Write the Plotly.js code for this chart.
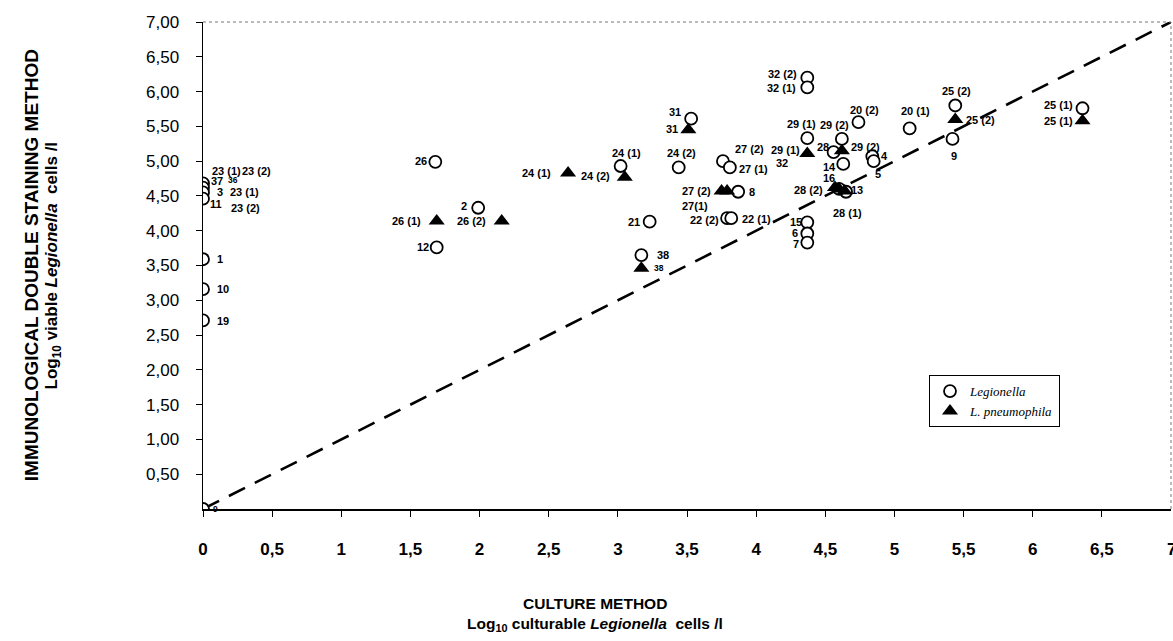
<!DOCTYPE html>
<html>
<head>
<meta charset="utf-8">
<script src="https://cdn.plot.ly/plotly-3.0.1.min.js"></script>
<style>html,body{margin:0;padding:0;background:#fff;}#chart{width:1173px;height:641px;}</style>
</head>
<body>
<div id="chart"></div>
<script>
// Legionella (open circles): culture (x) vs immunological double staining (y)
const legionellaX = [0,0,0,0,0,0,0,0, 1.68,1.99,1.69, 3.02,3.44,3.53,3.76,3.81,3.87,3.23,3.79,3.82,3.17, 4.37,4.37,4.74,5.11,4.37,4.62,4.56,4.63,4.84,4.85,4.65,4.60,4.37,4.37,4.37, 5.44,5.42,6.36];
const legionellaY = [4.68,4.62,4.55,4.46,3.59,3.16,2.71,0, 4.99,4.33,3.76, 4.93,4.91,5.61,5.00,4.91,4.56,4.13,4.18,4.18,3.65, 6.20,6.06,5.56,5.47,5.33,5.32,5.13,4.96,5.07,5.00,4.56,4.60,4.12,3.96,3.83, 5.80,5.32,5.76];
// L. pneumophila (filled triangles)
const pneumoX = [1.69,2.16,2.64,3.05,3.51,3.17,3.75,3.79,4.37,4.62,4.57,4.60,4.64,5.44,6.36];
const pneumoY = [4.14,4.14,4.83,4.77,5.45,3.46,4.57,4.57,5.11,5.15,4.62,4.60,4.57,5.60,5.58];
// sample labels
const labelText = ["23 (1)","23 (2)","37","36","3","23 (1)","11","23 (2)","1","10","19","9",
  "26","2","26 (1)","26 (2)","12","24 (1)","24 (2)","24 (1)","24 (2)","31","31",
  "27 (2)","27 (1)","27 (2)","8","27(1)","21","22 (2)","22 (1)","38","38",
  "32 (2)","32 (1)","20 (2)","20 (1)","29 (1)","29 (2)","29 (1)","32","28","29 (2)","4","5","14","16","28 (2)","13","28 (1)","15","6","7",
  "25 (2)","25 (2)","9","25 (1)","25 (1)"];
const labelX = [0.17,0.385,0.10,0.22,0.125,0.30,0.097,0.31,0.125,0.144,0.144,0.09,
  1.58,1.89,1.47,1.94,1.59,2.41,2.84,3.06,3.46,3.41,3.39,
  3.95,3.98,3.57,3.97,3.56,3.12,3.63,4.0,3.33,3.30,
  4.19,4.18,4.78,5.15,4.33,4.57,4.21,4.19,4.48,4.79,4.93,4.88,4.53,4.53,4.38,4.73,4.66,4.29,4.28,4.29,
  5.45,5.62,5.43,6.19,6.19];
const labelY = [4.86,4.86,4.71,4.73,4.55,4.55,4.38,4.33,3.59,3.16,2.70,0.0,
  5.0,4.36,4.14,4.14,3.76,4.83,4.79,5.12,5.12,5.70,5.46,
  5.18,4.88,4.57,4.56,4.35,4.13,4.15,4.17,3.65,3.46,
  6.25,6.05,5.74,5.72,5.54,5.52,5.16,4.97,5.20,5.21,5.08,4.81,4.92,4.76,4.59,4.59,4.26,4.13,3.97,3.81,
  6.01,5.59,5.08,5.81,5.57];
const smallLabels = [3, 11, 32];
// axis ticks
const xTickVals = [0,0.5,1,1.5,2,2.5,3,3.5,4,4.5,5,5.5,6,6.5];
const xTickText = ["0","0,5","1","1,5","2","2,5","3","3,5","4","4,5","5","5,5","6","6,5"];
const xLastTick = 7, xLastTickText = "7";
const yTickVals = [0.5,1,1.5,2,2.5,3,3.5,4,4.5,5,5.5,6,6.5,7];
const yTickText = ["0,50","1,00","1,50","2,00","2,50","3,00","3,50","4,00","4,50","5,00","5,50","6,00","6,50","7,00"];
const diagX = [0,7];
const diagY = [0,7];

const FONT = 'Liberation Sans, Arial, sans-serif';
const traces = [
  {x: diagX, y: diagY, mode:'lines', line:{color:'#000', width:2.6, dash:'18px,11px'}, showlegend:false, hoverinfo:'skip'},
  {x: legionellaX, y: legionellaY, mode:'markers', name:'Legionella',
   marker:{symbol:'circle', size:12, color:'#fff', line:{color:'#000', width:1.8}}},
  {x: pneumoX, y: pneumoY, mode:'markers', name:'L. pneumophila',
   marker:{symbol:'triangle-up', size:14, color:'#000', line:{color:'#000', width:0}}}
];

const annotations = labelText.map((t,i)=>({
  x: labelX[i], y: labelY[i], xref:'x', yref:'y', text:t, showarrow:false,
  xanchor:'center', yanchor:'middle',
  font:{family:FONT, size: smallLabels.includes(i) ? 8.5 : 11, color:'#000', weight:'bold'}
}));
annotations.push(
  {xref:'x', yref:'paper', x:xLastTick, y:0, yshift:-40, text:xLastTickText, showarrow:false,
   xanchor:'center', yanchor:'middle', font:{family:FONT, size:17, weight:'bold', color:'#000'}},
  {xref:'paper', yref:'paper', x:-0.177, y:0.5, text:'IMMUNOLOGICAL DOUBLE STAINING METHOD', textangle:-90, showarrow:false,
   xanchor:'center', yanchor:'middle', font:{family:FONT, size:19, weight:'bold', color:'#000'}},
  {xref:'paper', yref:'paper', x:-0.155, y:0.5, text:'Log<sub>10</sub> viable <i>Legionella</i>  cells /l', textangle:-90, showarrow:false,
   xanchor:'center', yanchor:'middle', font:{family:FONT, size:17, weight:'bold', color:'#000'}},
  {xref:'paper', yref:'paper', x:0.405, y:-0.195, text:'CULTURE METHOD', showarrow:false,
   xanchor:'center', yanchor:'middle', font:{family:FONT, size:15.5, weight:'bold', color:'#000'}},
  {xref:'paper', yref:'paper', x:0.405, y:-0.237, text:'Log<sub>10</sub> culturable <i>Legionella</i>  cells /l', showarrow:false,
   xanchor:'center', yanchor:'middle', font:{family:FONT, size:15.5, weight:'bold', color:'#000'}}
);

const layout = {
  width:1173, height:641,
  margin:{l:203, r:2, t:22, b:132, pad:0},
  paper_bgcolor:'#fff', plot_bgcolor:'#fff',
  showlegend:true,
  legend:{x:0.75, y:0.275, xanchor:'left', yanchor:'top', bgcolor:'#fff', bordercolor:'#000', borderwidth:1,
    font:{family:'Liberation Serif, Times New Roman, serif', size:13, style:'italic', color:'#000'}, tracegroupgap:0},
  xaxis:{range:[0,7], tickvals:xTickVals, ticktext:xTickText, showgrid:false, zeroline:false,
    showline:true, linecolor:'#000', linewidth:1.5, ticks:'outside', ticklen:6, tickcolor:'#000', tickwidth:1,
    ticklabelstandoff:18,
    tickfont:{family:FONT, size:17, weight:'bold', color:'#000'}},
  yaxis:{range:[0,7], tickvals:yTickVals, ticktext:yTickText, showgrid:false, zeroline:false,
    showline:true, linecolor:'#000', linewidth:1.5, ticks:'outside', ticklen:6, tickcolor:'#000', tickwidth:1,
    ticklabelstandoff:13,
    tickfont:{family:FONT, size:17, color:'#000'}},
  shapes:[
    {type:'line', xref:'paper', yref:'paper', x0:0, x1:1, y0:1, y1:1, line:{color:'#777', width:1, dash:'dot'}},
    {type:'line', xref:'paper', yref:'paper', x0:1, x1:1, y0:0, y1:1, line:{color:'#777', width:1, dash:'dot'}}
  ],
  annotations: annotations,
  hovermode:false
};

Plotly.newPlot('chart', traces, layout, {displayModeBar:false, staticPlot:true});
</script>
</body>
</html>
